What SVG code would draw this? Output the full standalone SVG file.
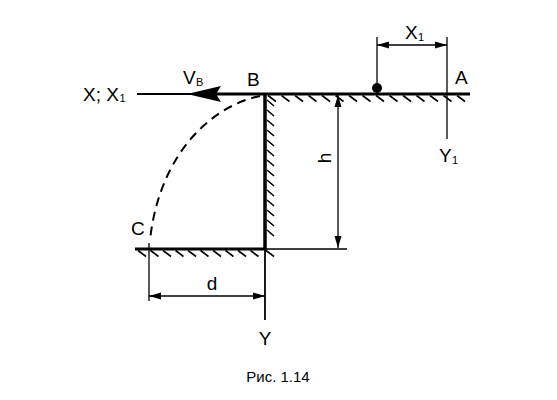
<svg xmlns="http://www.w3.org/2000/svg" width="557" height="400" viewBox="0 0 557 400">
<style>
  .thick{stroke:#000;stroke-width:3;fill:none;stroke-linecap:butt}
  .thin{stroke:#000;stroke-width:1.3;fill:none}
  .hatch{stroke:#000;stroke-width:1.6;fill:none}
  .dim{stroke:#000;stroke-width:1.3;fill:none;marker-start:url(#ah);marker-end:url(#ah)}
  .lbl{font-family:"Liberation Sans",Arial,sans-serif;font-size:19px;fill:#000}
  .sub{font-family:"Liberation Sans",Arial,sans-serif;font-size:11px;fill:#000}
</style>
<defs>
  <marker id="ah" markerUnits="userSpaceOnUse" markerWidth="13" markerHeight="8" refX="12" refY="4" orient="auto-start-reverse">
    <path d="M0,0.5 L12,4 L0,7.5 z" fill="#000"/>
  </marker>
</defs>
<rect width="557" height="400" fill="#fff"/>

<g id="top-surface">
  <line class="thick" x1="216" y1="94" x2="470" y2="94"/>
  <path class="hatch" d="M268,95.5l8,6 M281.5,95.5l8,6 M295,95.5l8,6 M308.5,95.5l8,6 M322,95.5l8,6 M335.5,95.5l8,6 M349,95.5l8,6 M362.5,95.5l8,6 M376,95.5l8,6 M389.5,95.5l8,6 M403,95.5l8,6 M416.5,95.5l8,6 M430,95.5l8,6 M443.5,95.5l8,6 M457,95.5l8,6"/>
</g>

<g id="wall">
  <line class="thick" x1="265" y1="94" x2="265" y2="250" style="stroke-width:3.5"/>
  <path class="hatch" d="M267,100l7,6 M267,110l7,6 M267,120l7,6 M267,130l7,6 M267,140l7,6 M267,150l7,6 M267,160l7,6 M267,170l7,6 M267,180l7,6 M267,190l7,6 M267,200l7,6 M267,210l7,6 M267,220l7,6 M267,230l7,6"/>
</g>

<g id="bottom-surface">
  <line class="thick" x1="135" y1="249" x2="266" y2="249"/>
  <line class="thin" x1="266" y1="249" x2="347" y2="249"/>
  <path class="hatch" d="M138,250.5l8,6 M150.5,250.5l8,6 M163,250.5l8,6 M175.5,250.5l8,6 M188,250.5l8,6 M200.5,250.5l8,6 M213,250.5l8,6 M225.5,250.5l8,6 M238,250.5l8,6 M250.5,250.5l8,6 M266,250.5l8,6"/>
</g>

<g id="connectors">
  <line class="thin" x1="137" y1="94" x2="200" y2="94" style="stroke-width:2"/>
  <path d="M187,94 L221,86 L216,94 L221,102 z" fill="#000"/>
  <path d="M260,96 C215,105 160,150 150,240" fill="none" stroke="#000" stroke-width="2" stroke-dasharray="9,6"/>
  <line class="thin" x1="265" y1="249" x2="265" y2="320" style="stroke-width:1.8"/>
  <line class="thin" x1="447" y1="37" x2="447" y2="139"/>
  <line class="thin" x1="377" y1="37" x2="377" y2="88"/>
  <line class="dim" x1="377" y1="45" x2="447" y2="45"/>
  <line class="dim" x1="338" y1="95" x2="338" y2="248"/>
  <line class="thin" x1="149" y1="243" x2="149" y2="301"/>
  <line class="dim" x1="149" y1="296" x2="265" y2="296"/>
</g>

<g id="point">
  <circle cx="377" cy="88" r="5" fill="#000"/>
</g>

<g id="labels">
  <text class="lbl" x="83" y="101">X; X</text><text class="sub" x="119.5" y="102">1</text>
  <text class="lbl" x="183" y="84">V</text><text class="sub" x="196" y="86">B</text>
  <text class="lbl" x="247" y="86">B</text>
  <text class="lbl" x="455" y="84">A</text>
  <text class="lbl" x="405" y="39">X</text><text class="sub" x="418" y="41">1</text>
  <text class="lbl" x="439" y="162">Y</text><text class="sub" x="452" y="164">1</text>
  <text class="lbl" x="131" y="235">C</text>
  <text class="lbl" x="212" y="290" text-anchor="middle">d</text>
  <text class="lbl" x="265" y="345" text-anchor="middle">Y</text>
  <text class="lbl" transform="translate(331,158) rotate(-90)" text-anchor="middle">h</text>
  <text class="lbl" x="278" y="382" text-anchor="middle" style="font-size:15px">Рис. 1.14</text>
</g>
</svg>
